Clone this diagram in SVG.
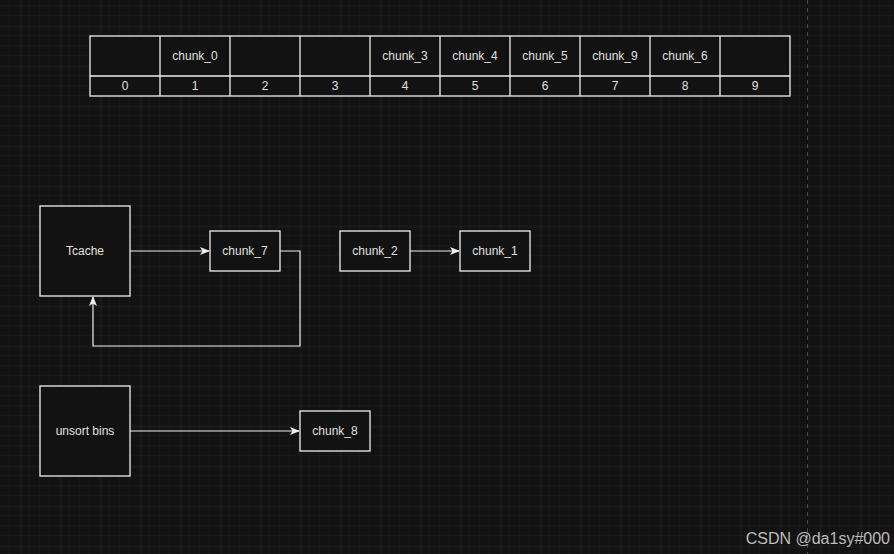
<svg xmlns="http://www.w3.org/2000/svg" width="894" height="554" viewBox="0 0 894 554">
<defs>
<pattern id="minor" width="10" height="10" patternUnits="userSpaceOnUse" x="0" y="6">
<path d="M10 0V10M0 10H10" fill="none" stroke="#1b1b1b" stroke-width="1"/>
</pattern>
<pattern id="major" width="40" height="40" patternUnits="userSpaceOnUse" x="20.5" y="26.5">
<path d="M0 0V40M0 0H40" fill="none" stroke="#2a2a2a" stroke-width="1"/>
</pattern>
<marker id="arr" viewBox="0 0 10 10" refX="9" refY="5" markerWidth="10" markerHeight="10" markerUnits="userSpaceOnUse" orient="auto">
<path d="M0 1L10 5L0 9L2.5 5Z" fill="#f0f0f0"/>
</marker>
</defs>
<style>
.box{fill:#121212;stroke:#f0f0f0;stroke-width:1.3}
.t{font-family:"Liberation Sans",Arial,sans-serif;font-size:12px;fill:#e0e0e0;text-anchor:middle;dominant-baseline:central}
.c{fill:none;stroke:#f0f0f0;stroke-width:1.2}
</style>
<rect width="894" height="554" fill="#121212"/>
<rect width="894" height="554" fill="url(#minor)"/>
<rect width="894" height="554" fill="url(#major)"/>
<line x1="807.5" y1="0" x2="807.5" y2="554" stroke="#4a4a4a" stroke-dasharray="4 4"/>
<g id="table">
<rect class="box" x="90" y="36" width="700" height="60"/>
<path d="M90 76H790M160 36V96M230 36V96M300 36V96M370 36V96M440 36V96M510 36V96M580 36V96M650 36V96M720 36V96" fill="none" stroke="#f0f0f0" stroke-width="1.3"/>
<text class="t" x="195" y="56">chunk_0</text>
<text class="t" x="405" y="56">chunk_3</text>
<text class="t" x="475" y="56">chunk_4</text>
<text class="t" x="545" y="56">chunk_5</text>
<text class="t" x="615" y="56">chunk_9</text>
<text class="t" x="685" y="56">chunk_6</text>
<text class="t" x="125" y="86">0</text>
<text class="t" x="195" y="86">1</text>
<text class="t" x="265" y="86">2</text>
<text class="t" x="335" y="86">3</text>
<text class="t" x="405" y="86">4</text>
<text class="t" x="475" y="86">5</text>
<text class="t" x="545" y="86">6</text>
<text class="t" x="615" y="86">7</text>
<text class="t" x="685" y="86">8</text>
<text class="t" x="755" y="86">9</text>
</g>
<g id="connectors">
<path class="c" d="M130 251H209" marker-end="url(#arr)"/>
<path class="c" d="M280 251H300V346H93V297" marker-end="url(#arr)"/>
<path class="c" d="M410 251H459" marker-end="url(#arr)"/>
<path class="c" d="M130 431H299" marker-end="url(#arr)"/>
</g>
<g id="tcache"><rect class="box" x="40" y="206" width="90" height="90"/><text class="t" x="85" y="251">Tcache</text></g>
<g id="chunk_7"><rect class="box" x="210" y="231" width="70" height="40"/><text class="t" x="245" y="251">chunk_7</text></g>
<g id="chunk_2"><rect class="box" x="340" y="231" width="70" height="40"/><text class="t" x="375" y="251">chunk_2</text></g>
<g id="chunk_1"><rect class="box" x="460" y="231" width="70" height="40"/><text class="t" x="495" y="251">chunk_1</text></g>
<g id="unsort"><rect class="box" x="40" y="386" width="90" height="90"/><text class="t" x="85" y="431">unsort bins</text></g>
<g id="chunk_8"><rect class="box" x="300" y="411" width="70" height="40"/><text class="t" x="335" y="431">chunk_8</text></g>
<text x="890" y="538" font-family="'Liberation Sans',Arial,sans-serif" font-size="16" fill="#bdbdbd" text-anchor="end" dominant-baseline="central">CSDN @da1sy#000</text>
</svg>
